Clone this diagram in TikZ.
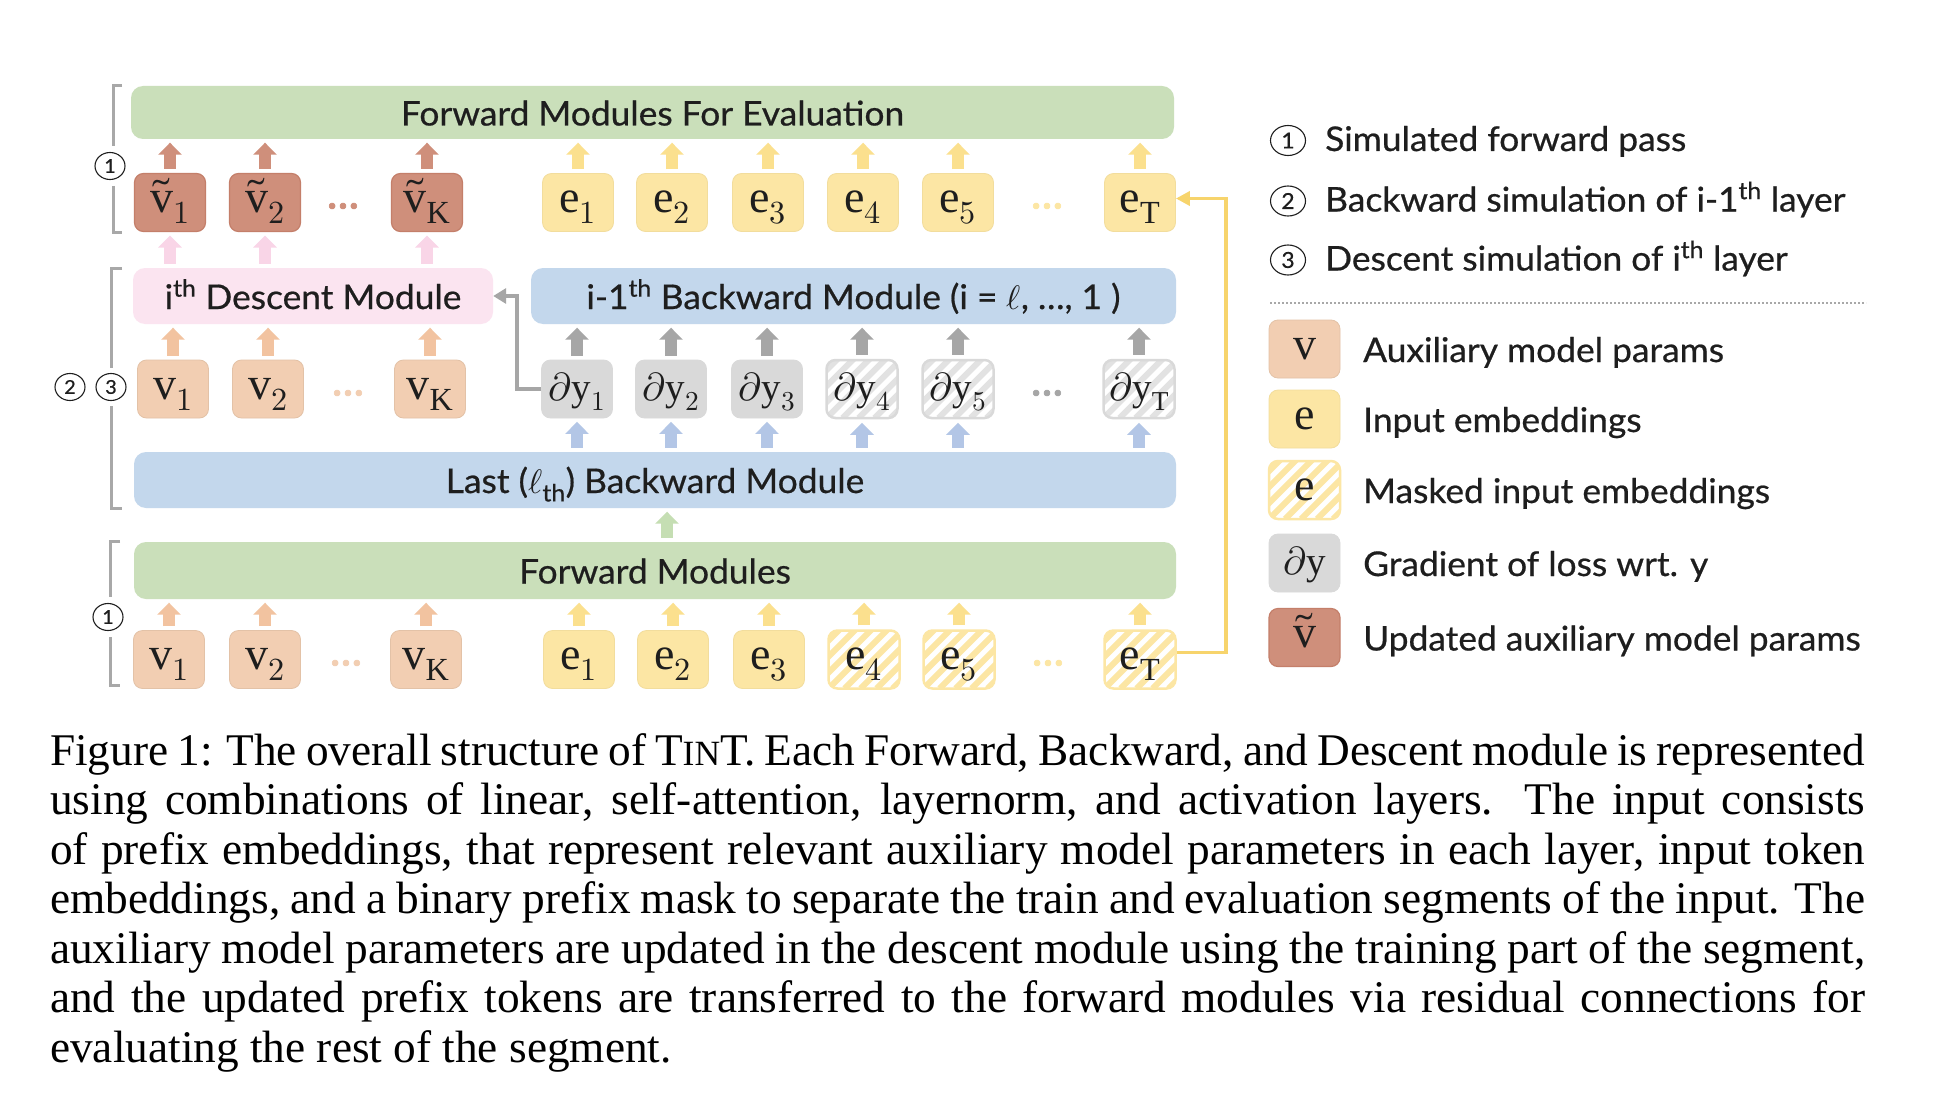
\documentclass[tikz,border=0pt]{standalone}
\usepackage{fontspec}
\usepackage{unicode-math}
\setmainfont{Liberation Serif}
\setmathfont{Latin Modern Math}
\newfontfamily\gill{Lato}[FakeStretch=1.04, FakeBold=0.6]
\newfontfamily\gilldots{Lato}[FakeBold=1.5]
\usetikzlibrary{arrows.meta,calc,shapes.geometric}

\definecolor{fgreen}{HTML}{CADFBA}
\definecolor{garrow}{HTML}{C5DEB3}
\definecolor{vfill}{HTML}{F2CEB2}
\definecolor{varrow}{HTML}{F2C3A0}
\definecolor{vtfill}{HTML}{CF8F7B}
\definecolor{vtdraw}{HTML}{C47F6A}
\definecolor{efill}{HTML}{FCE6A4}
\definecolor{earrow}{HTML}{FBE08E}
\definecolor{pfill}{HTML}{FBE4F0}
\definecolor{parrow}{HTML}{F9D5E7}
\definecolor{bfill}{HTML}{C3D7EC}
\definecolor{barrow}{HTML}{B3C6E6}
\definecolor{dfill}{HTML}{D9D9D9}
\definecolor{dstripe}{HTML}{E2E2E2}
\definecolor{darrow}{HTML}{A6A6A6}
\definecolor{brkc}{HTML}{A8A8A8}
\definecolor{yline}{HTML}{F7D46C}
\definecolor{ink}{HTML}{1E1E1E}

\begin{document}
\begin{tikzpicture}[x=1pt,y=-1pt,
  tbox/.style={rounded corners=9pt, minimum width=71pt, minimum height=58pt, inner sep=0pt,
    font=\fontsize{46}{46}\selectfont, text height=20pt, text depth=0pt, text=ink},
  vbox/.style={tbox, fill=vfill, draw=vfill!94!black, line width=0.8pt},
  vtbox/.style={tbox, fill=vtfill, draw=vtdraw, line width=1.2pt},
  ebox/.style={tbox, fill=efill, draw=efill!96!black, line width=0.8pt},
  stripefill/.style={path picture={
      \foreach \k in {-5,...,5}{
        \draw[#1, line width=6pt] ($(path picture bounding box.south west)+(\k*16,0)$) -- ++(100,-100);
      }}},
  embox/.style={tbox, fill=white, draw=efill, line width=2.5pt, stripefill=efill},
  dbox/.style={tbox, fill=dfill, draw=dfill, line width=0.8pt, text height=23pt, font=\fontsize{39}{39}\selectfont},
  dmbox/.style={tbox, fill=white, draw=dfill, line width=2.5pt, stripefill=dstripe, text height=23pt, font=\fontsize{39}{39}\selectfont},
  modbar/.style={rounded corners=12pt, inner sep=0pt, font=\gill\fontsize{34}{34}\selectfont,
    text height=26pt, text depth=0pt, text=ink},
  blk/.style={line width=11.5pt, -{Triangle[width=23pt,length=12pt]}, shorten <=4pt, shorten >=3.5pt},
  ellip/.style={inner sep=0pt, font=\gilldots\fontsize{46}{46}\selectfont},
  brkline/.style={draw=brkc, line width=3pt},
  numc/.style={ellipse, draw=ink, line width=1.1pt, inner sep=0pt, minimum width=30pt, minimum height=27pt,
    font=\gill\fontsize{19}{19}\selectfont, text=ink},
  lnumc/.style={numc, minimum width=35pt, minimum height=30pt, font=\gill\fontsize{22}{22}\selectfont},
  ltext/.style={anchor=base west, inner sep=0pt, font=\gill\fontsize{34}{34}\selectfont, text=ink},
  captxt/.style={anchor=base west, inner sep=0pt, font=\fontsize{45.3}{50}\selectfont, text=black},
]
\fill[white] (0,0) rectangle (1934,1118);
\useasboundingbox (0,0) rectangle (1934,1118);

% ---------- bars ----------
\node[modbar, fill=fgreen, minimum width=1043pt, minimum height=53pt] (fe) at (652.5,112.5) {Forward Modules For Evaluation};
\node[modbar, fill=pfill, minimum width=360pt, minimum height=56pt] (desc) at (313,296) {i\textsuperscript{th} Descent Module};
\node[modbar, fill=bfill, minimum width=645pt, minimum height=56pt] (backi) at (853.5,296) {i-1\textsuperscript{th} Backward Module (i = $\ell$, …, 1 )};
\node[modbar, fill=bfill, minimum width=1042pt, minimum height=56pt] (lastb) at (655,480) {Last ($\ell$\textsubscript{th}) Backward Module};
\node[modbar, fill=fgreen, minimum width=1042pt, minimum height=57pt] (fm) at (655,570.5) {Forward Modules};

% ---------- top row ----------
\node[vtbox] (vt1) at (170,202.5) {$\tilde{\mathrm{v}}_{1}$};
\node[vtbox] (vt2) at (265,202.5) {$\tilde{\mathrm{v}}_{2}$};
\node[ellip, text=vtfill] (dta) at (343,206) {...};
\node[vtbox] (vtK) at (427,202.5) {$\tilde{\mathrm{v}}_{\mathrm{K}}$};
\node[ebox] (et1) at (578,202.5) {$\mathrm{e}_{1}$};
\node[ebox] (et2) at (672,202.5) {$\mathrm{e}_{2}$};
\node[ebox] (et3) at (768,202.5) {$\mathrm{e}_{3}$};
\node[ebox] (et4) at (863,202.5) {$\mathrm{e}_{4}$};
\node[ebox] (et5) at (958,202.5) {$\mathrm{e}_{5}$};
\node[ellip, text=efill] (dtb) at (1047,206) {...};
\node[ebox] (etT) at (1140,202.5) {$\mathrm{e}_{\mathrm{T}}$};

% ---------- middle row ----------
\node[vbox] (vm1) at (173,389) {$\mathrm{v}_{1}$};
\node[vbox] (vm2) at (268,389) {$\mathrm{v}_{2}$};
\node[ellip, text=vfill] (dma) at (348,393) {...};
\node[vbox] (vmK) at (430,389) {$\mathrm{v}_{\mathrm{K}}$};
\node[dbox] (dy1) at (577,389) {$\partial\mathrm{y}_{1}$};
\node[dbox] (dy2) at (671,389) {$\partial\mathrm{y}_{2}$};
\node[dbox] (dy3) at (767,389) {$\partial\mathrm{y}_{3}$};
\node[dmbox] (dy4) at (862,389) {$\partial\mathrm{y}_{4}$};
\node[dmbox] (dy5) at (958,389) {$\partial\mathrm{y}_{5}$};
\node[ellip, text=darrow] (dmb) at (1047,393) {...};
\node[dmbox] (dyT) at (1139,389) {$\partial\mathrm{y}_{\mathrm{T}}$};

% ---------- bottom row ----------
\node[vbox] (vb1) at (169,659.5) {$\mathrm{v}_{1}$};
\node[vbox] (vb2) at (265,659.5) {$\mathrm{v}_{2}$};
\node[ellip, text=vfill] (dba) at (346,663) {...};
\node[vbox] (vbK) at (426,659.5) {$\mathrm{v}_{\mathrm{K}}$};
\node[ebox] (eb1) at (579,659.5) {$\mathrm{e}_{1}$};
\node[ebox] (eb2) at (673,659.5) {$\mathrm{e}_{2}$};
\node[ebox] (eb3) at (769,659.5) {$\mathrm{e}_{3}$};
\node[embox] (eb4) at (864,659.5) {$\mathrm{e}_{4}$};
\node[embox] (eb5) at (959,659.5) {$\mathrm{e}_{5}$};
\node[ellip, text=efill] (dbb) at (1048,663) {...};
\node[embox] (ebT) at (1140,659.5) {$\mathrm{e}_{\mathrm{T}}$};

% ---------- block arrows ----------
\foreach \n in {vt1,vt2,vtK}{\draw[blk, vtfill] (\n.north) -- (\n.north |- fe.south);}
\foreach \n in {et1,et2,et3,et4,et5,etT}{\draw[blk, earrow] (\n.north) -- (\n.north |- fe.south);}
\foreach \n in {vt1,vt2,vtK}{\draw[blk, parrow] (\n.south |- desc.north) -- (\n.south);}
\foreach \n in {vm1,vm2,vmK}{\draw[blk, varrow] (\n.north) -- (\n.north |- desc.south);}
\foreach \n in {dy1,dy2,dy3,dy4,dy5,dyT}{\draw[blk, darrow] (\n.north) -- (\n.north |- backi.south);}
\foreach \n in {dy1,dy2,dy3,dy4,dy5,dyT}{\draw[blk, barrow] (\n.south |- lastb.north) -- (\n.south);}
\draw[blk, garrow] ([xshift=12pt]fm.north) -- ([xshift=12pt]fm.north |- lastb.south);
\foreach \n in {vb1,vb2,vbK}{\draw[blk, varrow] (\n.north) -- (\n.north |- fm.south);}
\foreach \n in {eb1,eb2,eb3,eb4,eb5,ebT}{\draw[blk, earrow] (\n.north) -- (\n.north |- fm.south);}

% ---------- line connectors ----------
\draw[draw=darrow, line width=4.5pt, -{Triangle[width=15pt,length=13pt]}] (dy1.west) -- ++(-24,0) |- (desc.east);
\draw[draw=yline, line width=3.5pt, -{Triangle[width=14pt,length=14pt]}] ([yshift=7pt]ebT.east) -- ++(49,0) |- ([yshift=4pt]etT.east);

% ---------- brackets ----------
\draw[brkline] (122,86) -- (113.5,86) -- (113.5,146);
\draw[brkline] (113.5,186) -- (113.5,232) -- (122,232);
\node[numc] (n1t) at (110,166) {1};
\draw[brkline] (122,268) -- (111,268) -- (111,368);
\draw[brkline] (111,406) -- (111,508) -- (122,508);
\node[numc] (n2) at (70,387) {2};
\node[numc] (n3) at (111,387) {3};
\draw[brkline] (120,541) -- (110,541) -- (110,597);
\draw[brkline] (110,637) -- (110,685) -- (120,685);
\node[numc] (n1b) at (108,617) {1};

% ---------- legend ----------
\node[lnumc] (l1) at (1288,140.5) {1};
\node[ltext] (l1t) at (1325,151) {Simulated forward pass};
\node[lnumc] (l2) at (1288,201) {2};
\node[ltext] (l2t) at (1325,211.5) {Backward simulation of i-1\textsuperscript{th} layer};
\node[lnumc] (l3) at (1288,260) {3};
\node[ltext] (l3t) at (1325,270.5) {Descent simulation of i\textsuperscript{th} layer};
\draw[draw=brkc, line width=2pt, dash pattern=on 2pt off 2pt] (1270,303) -- (1866,303);

\node[vbox] (lg1) at (1304.5,349) {$\mathrm{v}$};
\node[ltext] (lg1t) at (1363,362) {Auxiliary model params};
\node[ebox] (lg2) at (1304.5,419) {$\mathrm{e}$};
\node[ltext] (lg2t) at (1363,432) {Input embeddings};
\node[embox] (lg3) at (1304.5,490) {$\mathrm{e}$};
\node[ltext] (lg3t) at (1363,503) {Masked input embeddings};
\node[dbox] (lg4) at (1304.5,563) {$\partial\mathrm{y}$};
\node[ltext] (lg4t) at (1363,576) {Gradient of loss wrt. y};
\node[vtbox] (lg5) at (1304.5,637.5) {$\tilde{\mathrm{v}}$};
\node[ltext] (lg5t) at (1363,650.5) {Updated auxiliary model params};

% ---------- caption ----------
\node[captxt] (c1) at (50,765) {\makebox[1815pt][s]{Figure 1: The overall structure of T{\fontsize{35.5}{50}\selectfont IN}T. Each Forward, Backward, and Descent module is represented}};
\node[captxt] (c2) at (50,814.5) {\makebox[1815pt][s]{using combinations of linear, self-attention, layernorm, and activation layers.  The input consists}};
\node[captxt] (c3) at (50,864) {\makebox[1815pt][s]{of prefix embeddings, that represent relevant auxiliary model parameters in each layer, input token}};
\node[captxt] (c4) at (50,913.5) {\makebox[1815pt][s]{embeddings, and a binary prefix mask to separate the train and evaluation segments of the input. The}};
\node[captxt] (c5) at (50,963) {\makebox[1815pt][s]{auxiliary model parameters are updated in the descent module using the training part of the segment,}};
\node[captxt] (c6) at (50,1012.5) {\makebox[1815pt][s]{and the updated prefix tokens are transferred to the forward modules via residual connections for}};
\node[captxt] (c7) at (50,1062) {evaluating the rest of the segment.};
\end{tikzpicture}
\end{document}
